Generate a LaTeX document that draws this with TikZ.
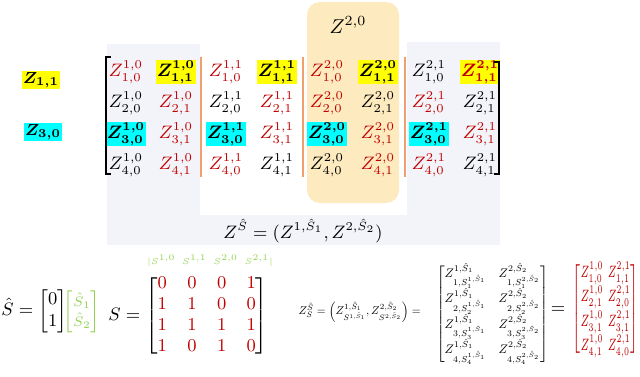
\documentclass[tikz,border=0pt]{standalone}
\usepackage{amsmath}
\usepackage{bm}
\usepackage{graphicx}
\usetikzlibrary{positioning}

\definecolor{selred}{RGB}{192,0,0}
\definecolor{sgreen}{RGB}{146,208,80}
\definecolor{panelgray}{RGB}{243,244,249}
\definecolor{boxorange}{RGB}{253,234,190}
\definecolor{sepline}{RGB}{240,160,110}
\definecolor{hlyellow}{RGB}{255,255,0}
\definecolor{hlcyan}{RGB}{0,255,255}

\begin{document}
\begin{tikzpicture}[
x=0.5pt, y=-0.5pt,
entry/.style={font=\small, inner sep=0.4pt},
sel/.style={entry, text=selred},
hly/.style={entry, fill=hlyellow},
hlc/.style={entry, fill=hlcyan},
sep/.style={draw=sepline, line width=0.6pt},
brk/.style={draw=black, line width=0.6pt}
]

\useasboundingbox (0,0) rectangle (640,376);

% panels behind the matrix
\fill[panelgray] (107,44) rectangle (200,245);
\fill[panelgray] (407,42) rectangle (500,245);
\fill[panelgray] (200,215) rectangle (407,245);
\fill[boxorange, rounded corners=6.5pt] (307,2) rectangle (399,203);

\node[font=\normalsize] (zhead) at (348,25) {$Z^{2,0}$};

% row 1
\node[sel] (a11) at (126,72) {$Z^{1,0}_{1,0}$};
\node[hly] (a12) at (176,72) {$\bm{Z^{1,0}_{1,1}}$};
\node[sel] (a13) at (226,72) {$Z^{1,1}_{1,0}$};
\node[hly] (a14) at (277,72) {$\bm{Z^{1,1}_{1,1}}$};
\node[sel] (a15) at (327,72) {$Z^{2,0}_{1,0}$};
\node[hly] (a16) at (378,72) {$\bm{Z^{2,0}_{1,1}}$};
\node[entry] (a17) at (429,72) {$Z^{2,1}_{1,0}$};
\node[hly, text=selred] (a18) at (480,72) {$\bm{Z^{2,1}_{1,1}}$};

% row 2
\node[entry] (a21) at (126,103) {$Z^{1,0}_{2,0}$};
\node[sel] (a22) at (176,103) {$Z^{1,0}_{2,1}$};
\node[entry] (a23) at (226,103) {$Z^{1,1}_{2,0}$};
\node[sel] (a24) at (277,103) {$Z^{1,1}_{2,1}$};
\node[sel] (a25) at (327,103) {$Z^{2,0}_{2,0}$};
\node[entry] (a26) at (378,103) {$Z^{2,0}_{2,1}$};
\node[sel] (a27) at (429,103) {$Z^{2,1}_{2,0}$};
\node[entry] (a28) at (480,103) {$Z^{2,1}_{2,1}$};

% row 3
\node[hlc] (a31) at (126,134) {$\bm{Z^{1,0}_{3,0}}$};
\node[sel] (a32) at (176,134) {$Z^{1,0}_{3,1}$};
\node[hlc] (a33) at (226,134) {$\bm{Z^{1,1}_{3,0}}$};
\node[sel] (a34) at (277,134) {$Z^{1,1}_{3,1}$};
\node[hlc] (a35) at (327,134) {$\bm{Z^{2,0}_{3,0}}$};
\node[sel] (a36) at (378,134) {$Z^{2,0}_{3,1}$};
\node[hlc] (a37) at (429,134) {$\bm{Z^{2,1}_{3,0}}$};
\node[sel] (a38) at (480,134) {$Z^{2,1}_{3,1}$};

% row 4
\node[entry] (a41) at (126,165) {$Z^{1,0}_{4,0}$};
\node[sel] (a42) at (176,165) {$Z^{1,0}_{4,1}$};
\node[sel] (a43) at (226,165) {$Z^{1,1}_{4,0}$};
\node[entry] (a44) at (277,165) {$Z^{1,1}_{4,1}$};
\node[entry] (a45) at (327,165) {$Z^{2,0}_{4,0}$};
\node[sel] (a46) at (378,165) {$Z^{2,0}_{4,1}$};
\node[sel] (a47) at (429,165) {$Z^{2,1}_{4,0}$};
\node[entry] (a48) at (480,165) {$Z^{2,1}_{4,1}$};

% brackets and separators
\draw[brk] (111,57) -- (106,57) -- (106,174) -- (111,174);
\draw[brk] (494,62) -- (499,62) -- (499,174) -- (494,174);
\draw[sep] (201,57) -- (201,177);
\draw[sep] (303,57) -- (303,177);
\draw[sep] (405,57) -- (405,177);

\node[hly, font=\footnotesize] (z11) at (41,80) {$\bm{Z_{1,1}}$};
\node[hlc, font=\footnotesize] (z30) at (43,132) {$\bm{Z_{3,0}}$};

\node[font=\small] (zsel) at (303,231) {$Z^{\hat S}=(Z^{1,\hat S_1},Z^{2,\hat S_2})$};

% bottom left
\node[font=\small, anchor=west, inner sep=0pt] (shat) at (1,311) {$\hat S=\begin{bmatrix}0\\1\end{bmatrix}$};
\node[font=\scriptsize, text=sgreen, inner sep=0pt] (shatsym) at (82,312) {\renewcommand{\arraystretch}{1.25}$\begin{bmatrix}\hat S_1\\\hat S_2\end{bmatrix}$};
\node[text=sgreen, inner sep=0pt] (shead) at (210,261) {\resizebox{63pt}{!}{\tiny$|S^{1,0}\hspace{4pt}S^{1,1}\hspace{4pt}S^{2,0}\hspace{4pt}S^{2,1}|$}};
\node[font=\small, anchor=west, inner sep=0pt] (smat) at (108,316) {\setlength{\arraycolsep}{5.1pt}\renewcommand{\arraystretch}{0.95}$S=\begin{bmatrix}
\color{selred}0&\color{selred}0&\color{selred}0&\color{selred}1\\
\color{selred}1&\color{selred}1&\color{selred}0&\color{selred}0\\
\color{selred}1&\color{selred}1&\color{selred}1&\color{selred}1\\
\color{selred}1&\color{selred}0&\color{selred}1&\color{selred}0
\end{bmatrix}$};

% bottom right
\node[anchor=east, inner sep=0pt] (zss) at (421,312) {\resizebox{61pt}{!}{$Z_S^{\hat S}=\left(Z^{1,\hat S_1}_{S^{1,\hat S_1}},Z^{2,\hat S_2}_{S^{2,\hat S_2}}\right)=$}};
\node[anchor=west, inner sep=0pt] (zbig) at (436,314) {\resizebox{56pt}{!}{\renewcommand{\arraystretch}{0.85}$\begin{bmatrix}
Z^{1,\hat S_1}_{1,S_1^{1,\hat S_1}} & Z^{2,\hat S_2}_{1,S_1^{2,\hat S_2}}\\
Z^{1,\hat S_1}_{2,S_2^{1,\hat S_1}} & Z^{2,\hat S_2}_{2,S_2^{2,\hat S_2}}\\
Z^{1,\hat S_1}_{3,S_3^{1,\hat S_1}} & Z^{2,\hat S_2}_{3,S_3^{2,\hat S_2}}\\
Z^{1,\hat S_1}_{4,S_4^{1,\hat S_1}} & Z^{2,\hat S_2}_{4,S_4^{2,\hat S_2}}
\end{bmatrix}$}};
\node[font=\small, inner sep=0pt] (eq) at (558,310) {$=$};
\node[text=selred, anchor=east, inner sep=0pt] (zres) at (639,309) {\resizebox*{33pt}{49pt}{\scriptsize\renewcommand{\arraystretch}{1.3}$\left[\begin{array}{@{}c@{\hspace{3pt}}c@{}}
Z^{1,0}_{1,0} & Z^{2,1}_{1,1}\\
Z^{1,0}_{2,1} & Z^{2,1}_{2,0}\\
Z^{1,0}_{3,1} & Z^{2,1}_{3,1}\\
Z^{1,0}_{4,1} & Z^{2,1}_{4,0}
\end{array}\right]$}};

\end{tikzpicture}
\end{document}
